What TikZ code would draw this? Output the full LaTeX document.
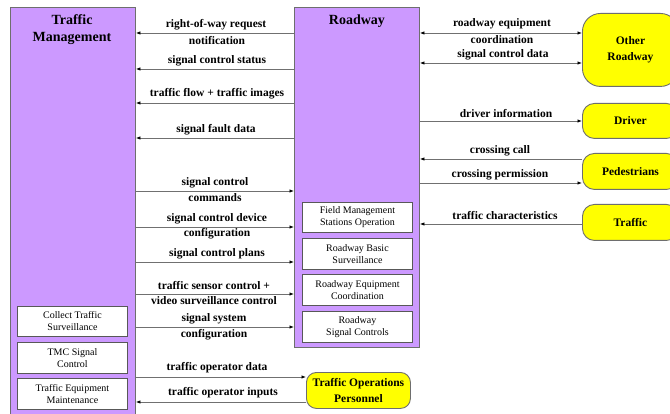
\documentclass[tikz,border=0pt]{standalone}
\usepackage{fontspec}
\setmainfont{Liberation Serif}
\usetikzlibrary{arrows.meta}
\definecolor{purp}{HTML}{CC99FF}
\definecolor{yel}{HTML}{FFFF00}
\definecolor{edge}{HTML}{6E6E6E}
\definecolor{lineg}{HTML}{707070}
\begin{document}
\begin{tikzpicture}[x=1pt,y=-1pt,
  big/.style={draw=edge, fill=purp, line width=0.9pt, anchor=north west, inner sep=0pt},
  sub/.style={draw=edge!80!black, fill=white, line width=0.9pt, anchor=north west,
    minimum width=110pt, minimum height=30pt, inner sep=0pt, align=center,
    font=\fontsize{10}{12}\selectfont},
  ext/.style={draw=edge, fill=yel, line width=0.9pt, rounded corners=12pt, anchor=north west,
    inner sep=0pt, align=center, font=\bfseries\fontsize{11.5}{16}\selectfont},
  ttl/.style={font=\bfseries\fontsize{14}{17}\selectfont, align=center, inner sep=0pt},
  lbl/.style={font=\bfseries\fontsize{11.5}{14}\selectfont, inner sep=0pt},
  flow/.style={draw=lineg, line width=0.8pt, -{Latex[length=4.5pt,width=3.5pt,black]}},
  flowb/.style={draw=lineg, line width=0.8pt, {Latex[length=4.5pt,width=3.5pt,black]}-{Latex[length=4.5pt,width=3.5pt,black]}}
]
\useasboundingbox (0,0) rectangle (670,414);
\clip (0,0) rectangle (670,414);
\fill[white] (0,0) rectangle (670,414);

% main boxes
\node[big, minimum width=125pt, minimum height=415pt] (TM) at (10,7) {};
\node[big, minimum width=125pt, minimum height=340pt] (RW) at (294,7) {};
\node[ttl] (TMt) at (72,30) {Traffic\\Management};
\node[ttl] (RWt) at (357,21) {Roadway};

% sub boxes
\node[sub] (cts) at (17,306) {Collect Traffic\\Surveillance};
\node[sub, minimum height=31pt] (tmc) at (17,342) {TMC Signal\\Control};
\node[sub, minimum height=31pt] (tem) at (17,378) {Traffic Equipment\\Maintenance};
\node[sub] (fms) at (302,202) {Field Management\\Stations Operation};
\node[sub, minimum height=31pt] (rbs) at (302,238) {Roadway Basic\\Surveillance};
\node[sub, minimum height=31pt] (rec) at (302,274) {Roadway Equipment\\Coordination};
\node[sub, minimum height=31pt] (rsc) at (302,311) {Roadway\\Signal Controls};

% external boxes
\node[ext, rounded corners=18pt, minimum width=96pt, minimum height=73pt] (OR) at (582,13) {Other\\Roadway};
\node[ext, minimum width=96pt, minimum height=35pt] (DR) at (582,103) {Driver};
\node[ext, minimum width=96pt, minimum height=36pt] (PD) at (582,153) {Pedestrians};
\node[ext, minimum width=96pt, minimum height=36pt] (TR) at (582,204) {Traffic};
\node[ext, rounded corners=10pt, minimum width=104pt, minimum height=36pt] (TOP) at (306,372) {Traffic Operations\\Personnel};

% TM <-> RW flows
\draw[flow] (RW.west |- 0,33) -- (TM.east |- 0,33);
\node[lbl] (l1a) at (216,25) {right-of-way request};
\node[lbl] (l1b) at (217,41) {notification};
\draw[flow] (RW.west |- 0,69) -- (TM.east |- 0,69);
\node[lbl] (l2) at (217,61) {signal control status};
\draw[flow] (RW.west |- 0,103) -- (TM.east |- 0,103);
\node[lbl] (l3) at (217,94) {traffic flow + traffic images};
\draw[flow] (RW.west |- 0,138) -- (TM.east |- 0,138);
\node[lbl] (l4) at (216,130) {signal fault data};

\draw[flow] (TM.east |- 0,191) -- (RW.west |- 0,191);
\node[lbl] (l5a) at (215,183) {signal control};
\node[lbl] (l5b) at (215,198) {commands};
\draw[flow] (TM.east |- 0,227) -- (RW.west |- 0,227);
\node[lbl] (l6a) at (217,219) {signal control device};
\node[lbl] (l6b) at (217,234) {configuration};
\draw[flow] (TM.east |- 0,262) -- (RW.west |- 0,262);
\node[lbl] (l7) at (217,254) {signal control plans};
\draw[flow] (TM.east |- 0,294) -- (RW.west |- 0,294);
\node[lbl] (l8a) at (214,286) {traffic sensor control +};
\node[lbl] (l8b) at (214,301) {video surveillance control};
\draw[flow] (TM.east |- 0,327) -- (RW.west |- 0,327);
\node[lbl] (l9a) at (214,319) {signal system};
\node[lbl] (l9b) at (214,335) {configuration};

% TM <-> TOP
\draw[flow] (TM.east |- 0,377) -- (TOP.west |- 0,377);
\node[lbl] (l10) at (217,368) {traffic operator data};
\draw[flow] (TOP.west |- 0,402) -- (TM.east |- 0,402);
\node[lbl] (l11) at (223,393) {traffic operator inputs};

% RW <-> externals
\draw[flowb] (RW.east |- 0,33) -- (OR.west |- 0,33);
\node[lbl] (r1a) at (502,24) {roadway equipment};
\node[lbl] (r1b) at (502,40) {coordination};
\draw[flowb] (RW.east |- 0,63) -- (OR.west |- 0,63);
\node[lbl] (r2) at (503,55) {signal control data};
\draw[flow] (RW.east |- 0,121) -- (DR.west |- 0,121);
\node[lbl] (r3) at (506,114) {driver information};
\draw[flow] (PD.west |- 0,159) -- (RW.east |- 0,159);
\node[lbl] (r4) at (500,151) {crossing call};
\draw[flow] (RW.east |- 0,183) -- (PD.west |- 0,183);
\node[lbl] (r5) at (500,175) {crossing permission};
\draw[flow] (TR.west |- 0,224) -- (RW.east |- 0,224);
\node[lbl] (r6) at (505,216) {traffic characteristics};
\end{tikzpicture}
\end{document}
